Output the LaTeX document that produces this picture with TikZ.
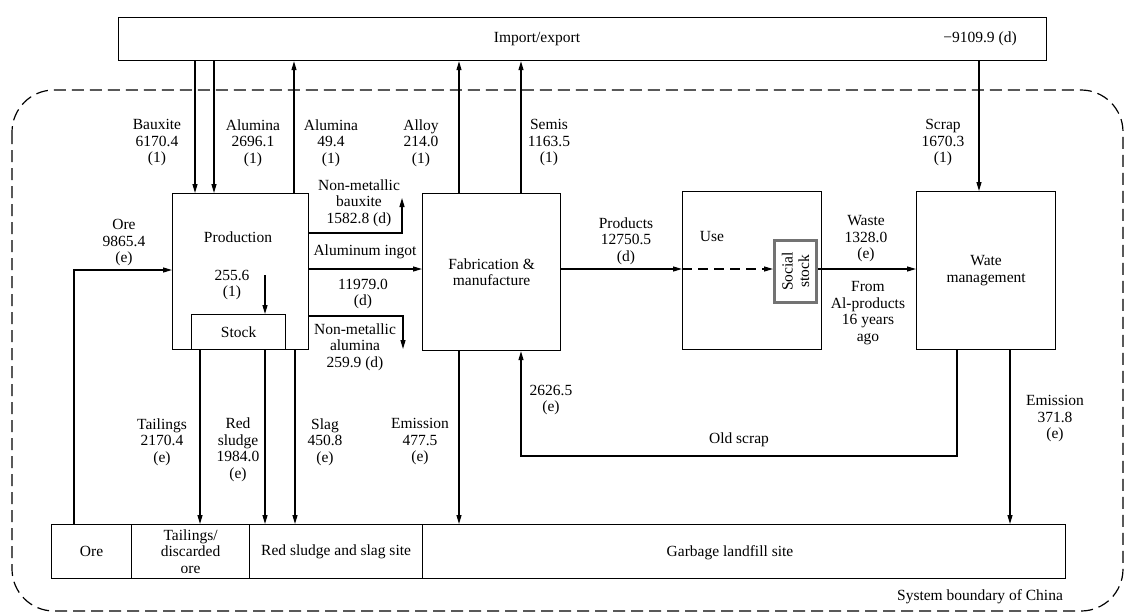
\documentclass[tikz,border=0pt]{standalone}
\usepackage{fontspec}
\setmainfont{Liberation Serif}
\usetikzlibrary{arrows.meta}
\begin{document}
\begin{tikzpicture}[x=1pt,y=-1pt,
  font=\fontsize{15.5}{16.5}\selectfont,
  box/.style={draw, line width=1.2pt, inner sep=0pt, anchor=north west, align=center},
  arr/.style={line width=1.2pt, -{Triangle[length=9pt,width=5pt]}},
  lbl/.style={align=center, inner sep=0pt}]
\useasboundingbox (0,0) rectangle (1125,613);
% system boundary
\draw[line width=1.2pt, dash pattern=on 12pt off 6pt, rounded corners=42pt] (12,90) rectangle (1123,611);
% boxes
\node[box, minimum width=928pt, minimum height=43pt] (ie) at (118,17) {};
\node[box, minimum width=136pt, minimum height=156pt] (prod) at (172,193) {};
\node[box, minimum width=94pt, minimum height=35pt] (stock) at (191,314) {Stock};
\node[box, minimum width=138pt, minimum height=157pt] (fab) at (422,193) {Fabrication \&\\manufacture};
\node[box, minimum width=139pt, minimum height=158pt] (use) at (682,191) {};
\node[box, draw=black!55, line width=3pt, minimum width=42pt, minimum height=62pt] (social) at (773,239) {};
\node[lbl, rotate=90] (socialtxt) at (social.center) {Social\\stock};
\node[box, minimum width=139pt, minimum height=158pt] (wm) at (916,191) {Wate\\management};
\node[box, minimum width=80pt, minimum height=54pt] (ore) at (51,524) {Ore};
\node[box, minimum width=118pt, minimum height=54pt] (tail) at (131,524) {Tailings/\\discarded\\ore};
\node[box, minimum width=173pt, minimum height=54pt] (red) at (249,524) {Red sludge and slag site};
\node[box, minimum width=643pt, minimum height=54pt] (garb) at (422,524) {};
% coordinates
\coordinate (xBx) at (195,0);
\coordinate (xAlA) at (214,0);
\coordinate (xAlB) at (294,0);
\coordinate (xAlloy) at (459,0);
\coordinate (xSemis) at (521,0);
\coordinate (xScrap) at (979,0);
\coordinate (xOre) at (74,0);
\coordinate (xTail) at (200,0);
\coordinate (xRed) at (265,0);
\coordinate (xSlag) at (295,0);
\coordinate (xOS) at (957,0);
\coordinate (xEmW) at (1010,0);
\coordinate (yNMB) at (0,233);
\coordinate (yIng) at (0,269);
\coordinate (yNMA) at (0,316);
\coordinate (yOre) at (0,270);
\coordinate (nmbEnd) at (402,198);
\coordinate (nmaEnd) at (403,349);
\coordinate (s255) at (265,275);
\coordinate (osc) at (521,456);
% arrows
\draw[arr] (ie.south -| xBx) -- (prod.north -| xBx);
\draw[arr] (ie.south -| xAlA) -- (prod.north -| xAlA);
\draw[arr] (prod.north -| xAlB) -- (ie.south -| xAlB);
\draw[arr] (fab.north -| xAlloy) -- (ie.south -| xAlloy);
\draw[arr] (fab.north -| xSemis) -- (ie.south -| xSemis);
\draw[arr] (ie.south -| xScrap) -- (wm.north -| xScrap);
\draw[arr] (ore.north -| xOre) |- (prod.west |- yOre);
\draw[arr] (prod.east |- yNMB) -| (nmbEnd);
\draw[arr] (prod.east |- yIng) -- (fab.west |- yIng);
\draw[arr] (prod.east |- yNMA) -| (nmaEnd);
\draw[arr] (s255) -- (stock.north -| s255);
\draw[arr] (stock.south -| xTail) -- (tail.north -| xTail);
\draw[arr] (stock.south -| xRed) -- (red.north -| xRed);
\draw[arr] (prod.south -| xSlag) -- (red.north -| xSlag);
\draw[arr] (fab.south -| xAlloy) -- (garb.north -| xAlloy);
\draw[arr] (wm.south -| xOS) |- (osc) -- (fab.south -| osc);
\draw[arr] (wm.south -| xEmW) -- (garb.north -| xEmW);
\draw[arr] (fab.east |- yIng) -- (use.west |- yIng);
\draw[arr, dash pattern=on 10pt off 6pt] (use.west |- yIng) -- (social.west |- yIng);
\draw[arr] (social.east |- yIng) -- (wm.west |- yIng);
% labels
\node[lbl] (tie) at (537,39) {Import/export};
\node[lbl] (tiev) at (980,39) {−9109.9 (d)};
\node[lbl] (lbx) at (157,143) {Bauxite\\6170.4\\(1)};
\node[lbl] (lalA) at (253,143) {Alumina\\2696.1\\(1)};
\node[lbl] (lalB) at (331,143) {Alumina\\49.4\\(1)};
\node[lbl] (lalloy) at (421,143) {Alloy\\214.0\\(1)};
\node[lbl] (lsemis) at (549,143) {Semis\\1163.5\\(1)};
\node[lbl] (lscrap) at (943,143) {Scrap\\1670.3\\(1)};
\node[lbl] (lore) at (124,243) {Ore\\9865.4\\(e)};
\node[lbl] (lprod) at (238,237) {Production};
\node[lbl] (l255) at (232,285) {255.6\\(1)};
\node[lbl] (lnmb) at (359,203) {Non-metallic\\bauxite\\1582.8 (d)};
\node[lbl] (ling) at (365,252) {Aluminum ingot};
\node[lbl] (lingv) at (363,294) {11979.0\\(d)};
\node[lbl] (lnma) at (355,347) {Non-metallic\\alumina\\259.9 (d)};
\node[lbl] (lprods) at (626,241) {Products\\12750.5\\(d)};
\node[lbl] (luse) at (712,236) {Use};
\node[lbl] (lwaste) at (866,239) {Waste\\1328.0\\(e)};
\node[lbl] (lfrom) at (868,313) {From\\Al-products\\16 years\\ago};
\node[lbl] (ltail) at (162,442) {Tailings\\2170.4\\(e)};
\node[lbl] (lred) at (238,450) {Red\\sludge\\1984.0\\(e)};
\node[lbl] (lslag) at (325,442) {Slag\\450.8\\(e)};
\node[lbl] (lemf) at (420,442) {Emission\\477.5\\(e)};
\node[lbl] (l2626) at (551,400) {2626.5\\(e)};
\node[lbl] (lold) at (739,440) {Old scrap};
\node[lbl] (lemw) at (1055,419) {Emission\\371.8\\(e)};
\node[lbl] (lgarb) at (730,553) {Garbage landfill site};
\node[lbl] (lsys) at (980,597) {System boundary of China};
\end{tikzpicture}
\end{document}
